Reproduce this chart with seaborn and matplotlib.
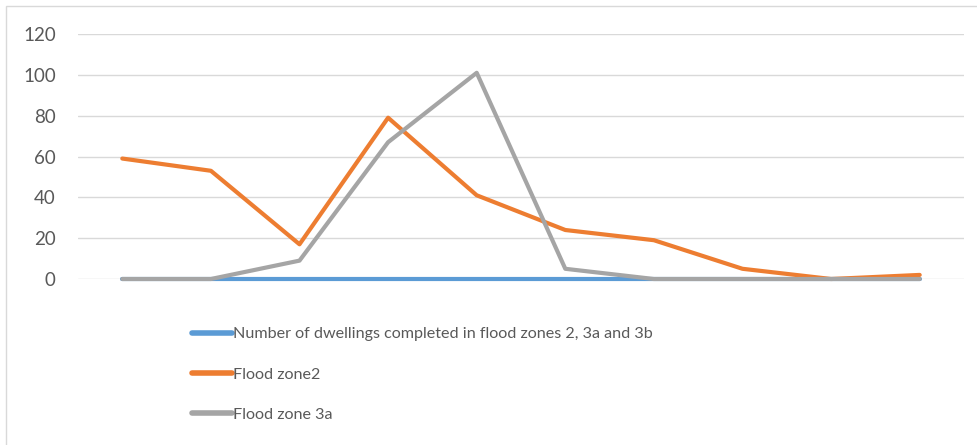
import matplotlib
matplotlib.use("Agg")
import matplotlib.pyplot as plt
import matplotlib.patches as mpatches
import pandas as pd
import seaborn as sns

# Series values per period (10 periods, unlabelled on the x axis)
periods = list(range(10))
dwellings_total = [0, 0, 0, 0, 0, 0, 0, 0, 0, 0]
flood_zone2 = [59, 53, 17, 79, 41, 24, 19, 5, 0, 2]
flood_zone3a = [0, 0, 9, 67, 101, 5, 0, 0, 0, 0]

series_names = [
    "Number of dwellings completed in flood zones 2, 3a and 3b",
    "Flood zone2",
    "Flood zone 3a",
]
y_ticks = [0, 20, 40, 60, 80, 100, 120]
colors = ["#5B9BD5", "#ED7D31", "#A5A5A5"]

df = pd.concat(
    [
        pd.DataFrame({"period": periods, "value": vals, "series": name})
        for name, vals in zip(series_names, [dwellings_total, flood_zone2, flood_zone3a])
    ],
    ignore_index=True,
)

sns.set_theme(style="white")
W, H = 977, 445
fig = plt.figure(figsize=(W / 100, H / 100), dpi=100)
ax = fig.add_axes([78 / W, 1 - 279 / H, 886 / W, 245 / H])

sns.lineplot(
    data=df, x="period", y="value", hue="series", hue_order=series_names,
    palette=colors, linewidth=3.0, ax=ax, sort=False, legend=True,
)
for line in ax.get_lines():
    line.set_solid_capstyle("round")
    line.set_solid_joinstyle("round")
    line.set_clip_on(False)

ax.set_xlim(-0.5, 9.5)
ax.set_ylim(0, 120)
ax.set_yticks(y_ticks)
ax.set_xticks([])
ax.set_xlabel("")
ax.set_ylabel("")
ax.yaxis.grid(True, color="#D9D9D9", linewidth=1.0)
ax.set_axisbelow(True)
for sp in ax.spines.values():
    sp.set_visible(False)
ax.tick_params(axis="y", length=0, pad=16, labelsize=13.5, labelcolor="#595959")
for lab in ax.get_yticklabels():
    lab.set_fontfamily(["Lato", "DejaVu Sans"])

handles, labels = ax.get_legend_handles_labels()
ax.legend_.remove()
leg = fig.legend(
    handles, labels, loc="upper left",
    bbox_to_anchor=(184 / W, 1 - 319 / H), bbox_transform=fig.transFigure,
    frameon=False, borderpad=0, handlelength=2.45, handletextpad=0.1,
    labelspacing=1.62,
    prop={"family": ["Lato", "DejaVu Sans"], "size": 11.6},
)
for t in leg.get_texts():
    t.set_color("#595959")
for h in leg.legend_handles:
    h.set_linewidth(4)
    h.set_solid_capstyle("round")

# light chart-area border
fig.add_artist(mpatches.Rectangle(
    (6 / W, -0.1), 1.2, 1 - 6 / H + 0.1, transform=fig.transFigure,
    fill=False, edgecolor="#D9D9D9", linewidth=1.0,
))

fig.savefig("out.png", dpi=100)
